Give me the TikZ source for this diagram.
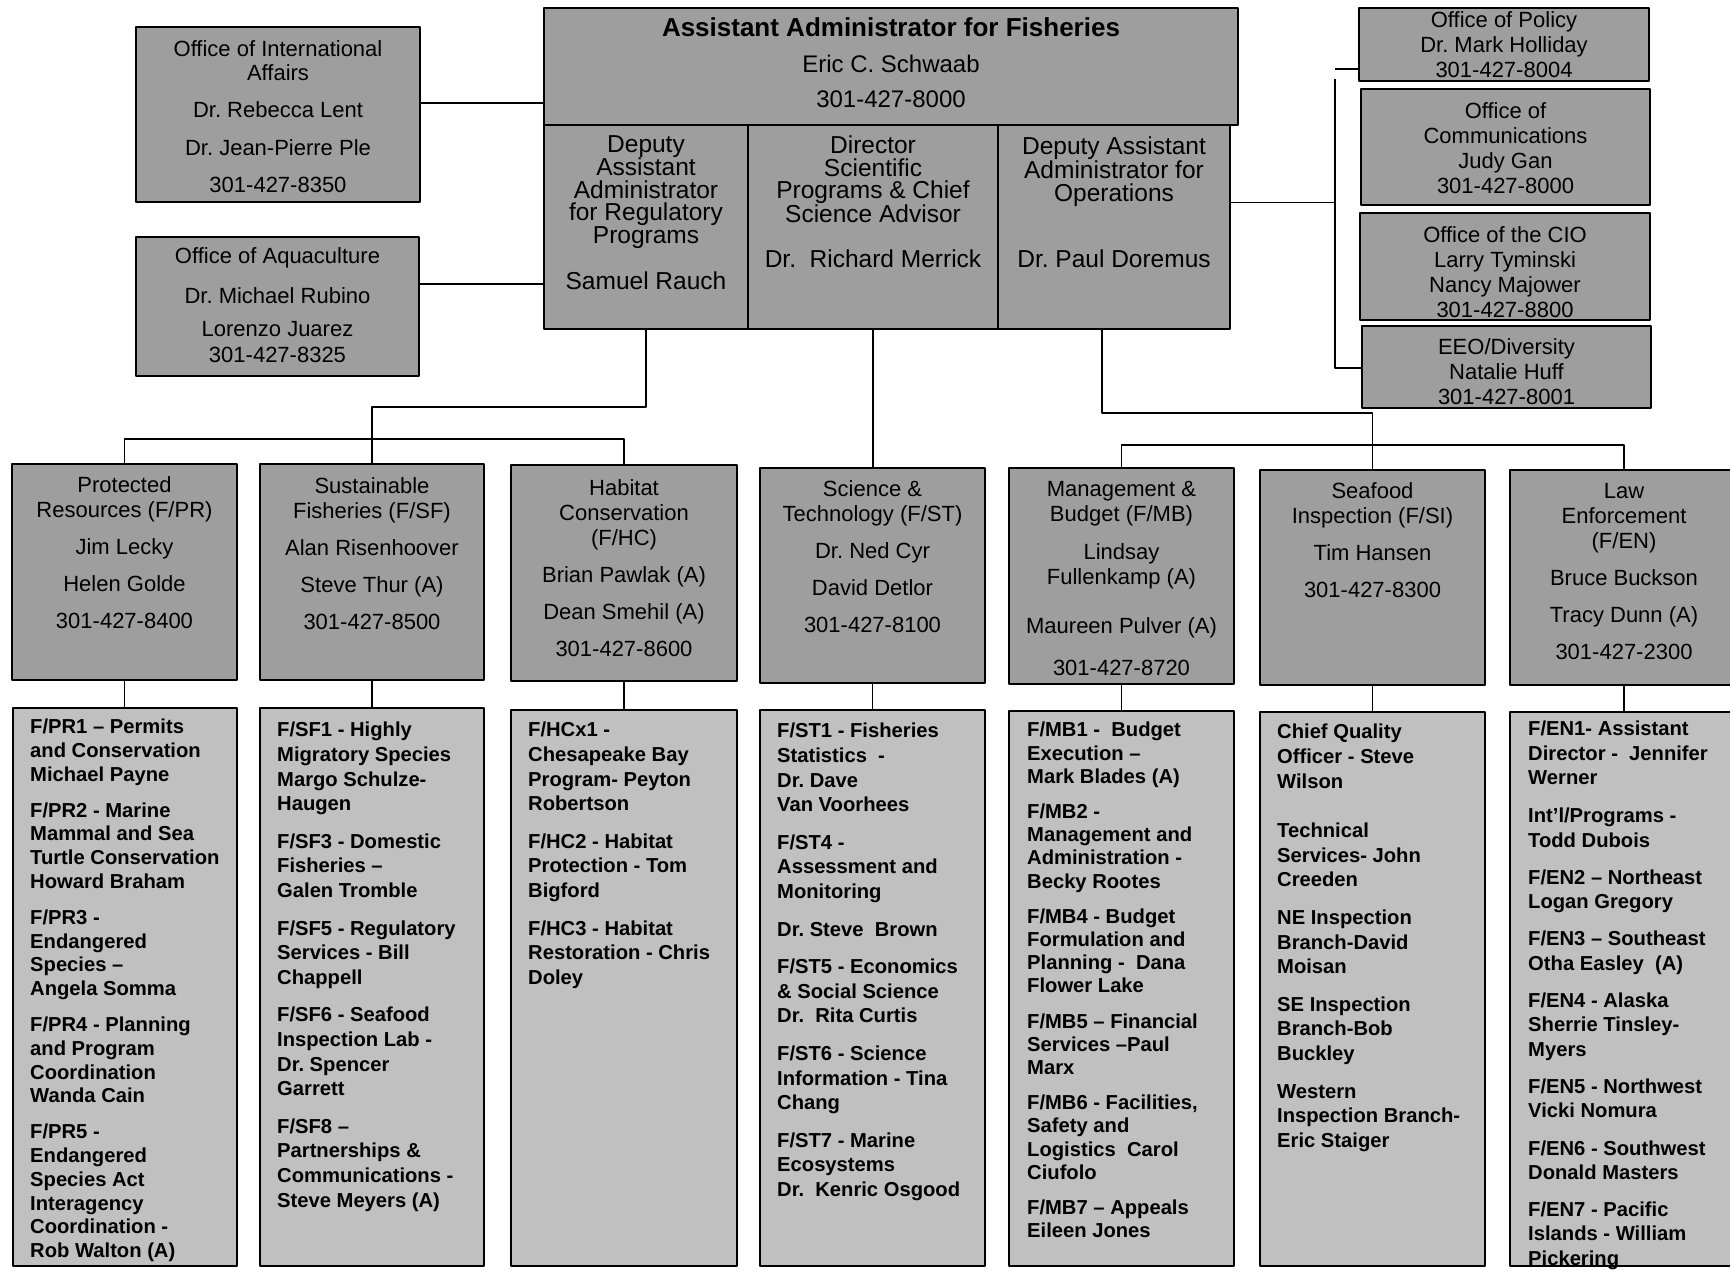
\documentclass[tikz,border=0pt]{standalone}
\usepackage{fontspec}
\setmainfont{Liberation Sans}
\frenchspacing
\definecolor{boxgray}{RGB}{158,158,158}
\definecolor{listgray}{RGB}{192,192,192}
\begin{document}
\begin{tikzpicture}[x=1pt,y=-1pt,line join=bevel,
  box/.style={draw=black,line width=2pt,fill=boxgray,inner sep=0pt,anchor=north west},
  listbox/.style={box,fill=listgray},
  conn/.style={black,line width=1.5pt},
  boxtext/.style={anchor=north,align=center,inner sep=0pt,font=\fontsize{22}{25}\selectfont},
  deptext/.style={boxtext,font=\fontsize{24.5}{22.5}\selectfont},
  listtext/.style={anchor=north west,align=left,inner sep=0pt,font=\bfseries\fontsize{20.2}{24.6}\selectfont},
]
\useasboundingbox (0,0) rectangle (1730,1270);
\fill [white] (0,0) rectangle (1730,1270);
\clip (0,0) rectangle (1730,1270);
%% head office
 \node (aa) at (543,7) [box,minimum width=694pt,minimum height=117pt] {};
 \node (aa_t) at ([yshift=-10pt]aa.north) [boxtext,font=\fontsize{24}{27}\selectfont] {{\bfseries\fontsize{26}{27}\selectfont Assistant Administrator for Fisheries}\\[9pt]Eric C. Schwaab\\[8pt]301-427-8000};
 \node (dep_reg) at (543,124) [box,minimum width=204pt,minimum height=204pt] {};
 \node (dep_sci) at (747,124) [box,minimum width=250pt,minimum height=204pt] {};
 \node (dep_ops) at (997,124) [box,minimum width=232pt,minimum height=204pt] {};
 \node (dep_reg_t) at ([yshift=-11pt]dep_reg.north) [deptext] {Deputy\\Assistant\\Administrator\\for Regulatory\\Programs\\[22.5pt]Samuel Rauch};
 \node (dep_sci_t) at ([yshift=-12pt]dep_sci.north) [deptext] {Director\\Scientific\\Programs \& Chief\\Science Advisor\\[22.5pt]Dr.\ \ Richard Merrick};
 \node (dep_ops_t) at ([yshift=-13pt]dep_ops.north) [deptext] {Deputy Assistant\\Administrator for\\Operations\\[42.5pt]Dr. Paul Doremus};
%% staff offices, left
 \node (intl) at (135,26) [box,minimum width=284pt,minimum height=175pt] {};
 \node (intl_t) at ([yshift=-14.5pt]intl.north) [boxtext] {Office of International\\[-1.5pt]Affairs\\[12pt]Dr. Rebecca Lent\\[13pt]Dr. Jean-Pierre Ple\\[12pt]301-427-8350};
 \node (aqua) at (135,236) [box,minimum width=283pt,minimum height=139pt] {};
 \node (aqua_t) at ([yshift=-11pt]aqua.north) [boxtext] {Office of Aquaculture\\[15pt]Dr. Michael Rubino\\[8pt]Lorenzo Juarez\\[1pt]301-427-8325};
%% staff offices, right
 \node (policy) at (1358,7) [box,minimum width=290pt,minimum height=73pt] {};
 \node (policy_t) at ([yshift=-4pt]policy.north) [boxtext] {Office of Policy\\Dr. Mark Holliday\\301-427-8004};
 \node (comm) at (1360,88) [box,minimum width=289pt,minimum height=116pt] {};
 \node (comm_t) at ([yshift=-14pt]comm.north) [boxtext] {Office of\\Communications\\Judy Gan\\301-427-8000};
 \node (cio) at (1359,212) [box,minimum width=290pt,minimum height=107pt] {};
 \node (cio_t) at ([yshift=-14pt]cio.north) [boxtext] {Office of the CIO\\Larry Tyminski\\Nancy Majower\\301-427-8800};
 \node (eeo) at (1361,325) [box,minimum width=289pt,minimum height=82pt] {};
 \node (eeo_t) at ([yshift=-13pt]eeo.north) [boxtext] {EEO/Diversity\\Natalie Huff\\301-427-8001};
%% offices
 \node (pr) at (11,463) [box,minimum width=225pt,minimum height=216pt] {};
 \node (sf) at (259,463) [box,minimum width=224pt,minimum height=216pt] {};
 \node (hc) at (510,464) [box,minimum width=226pt,minimum height=216pt] {};
 \node (st) at (759,467) [box,minimum width=225pt,minimum height=215pt] {};
 \node (mb) at (1008,467) [box,minimum width=225pt,minimum height=216pt] {};
 \node (si) at (1259,469) [box,minimum width=225pt,minimum height=215pt] {};
 \node (en) at (1509,469) [box,minimum width=228pt,minimum height=215pt] {};
 \node (pr_t) at ([yshift=-13pt]pr.north) [boxtext] {Protected\\Resources (F/PR)\\[12pt]Jim Lecky\\[12pt]Helen Golde\\[12pt]301-427-8400};
 \node (sf_t) at ([yshift=-14pt]sf.north) [boxtext] {Sustainable\\Fisheries (F/SF)\\[12pt]Alan Risenhoover\\[12pt]Steve Thur (A)\\[12pt]301-427-8500};
 \node (hc_t) at ([yshift=-15pt]hc.north) [boxtext] {Habitat\\Conservation\\(F/HC)\\[12pt]Brian Pawlak (A)\\[12pt]Dean Smehil (A)\\[12pt]301-427-8600};
 \node (st_t) at ([yshift=-13pt]st.north) [boxtext] {Science \&\\Technology (F/ST)\\[12pt]Dr. Ned Cyr\\[12pt]David Detlor\\[12pt]301-427-8100};
 \node (mb_t) at ([yshift=-14pt]mb.north) [boxtext] {Management \&\\Budget (F/MB)\\[13pt]Lindsay\\Fullenkamp (A)\\[24pt]Maureen Pulver (A)\\[17pt]301-427-8720};
 \node (si_t) at ([yshift=-13pt]si.north) [boxtext] {Seafood\\Inspection (F/SI)\\[12pt]Tim Hansen\\[12pt]301-427-8300};
 \node (en_t) at ([yshift=-14pt]en.north) [boxtext] {Law\\Enforcement\\(F/EN)\\[12pt]Bruce Buckson\\[12pt]Tracy Dunn (A)\\[12pt]301-427-2300};
%% divisions
 \node (pr_list) at (12,707) [listbox,minimum width=224pt,minimum height=558pt] {};
 \node (sf_list) at (259,707) [listbox,minimum width=224pt,minimum height=558pt] {};
 \node (hc_list) at (510,709) [listbox,minimum width=226pt,minimum height=556pt] {};
 \node (st_list) at (759,709) [listbox,minimum width=225pt,minimum height=556pt] {};
 \node (mb_list) at (1008,710) [listbox,minimum width=225pt,minimum height=555pt] {};
 \node (si_list) at (1259,711) [listbox,minimum width=225pt,minimum height=554pt] {};
 \node (en_list) at (1509,711) [listbox,minimum width=228pt,minimum height=554pt] {};
 \node (pr_list_t) at ([xshift=18pt,yshift=-12pt]pr_list.north west) [listtext,font=\bfseries\fontsize{20.2}{23.9}\selectfont] {F/PR1 – Permits\\and Conservation\\Michael Payne\\[11.5pt]F/PR2 - Marine\\Mammal and Sea\\Turtle Conservation\\Howard Braham\\[11.5pt]F/PR3 -\\Endangered\\Species –\\Angela Somma\\[11.5pt]F/PR4 - Planning\\and Program\\Coordination\\Wanda Cain\\[11.5pt]F/PR5 -\\Endangered\\Species Act\\Interagency\\Coordination -\\Rob Walton (A)};
 \node (sf_list_t) at ([xshift=18pt,yshift=-15pt]sf_list.north west) [listtext] {F/SF1 - Highly\\Migratory Species\\Margo Schulze-\\Haugen\\[13pt]F/SF3 - Domestic\\Fisheries –\\Galen Tromble\\[13pt]F/SF5 - Regulatory\\Services - Bill\\Chappell\\[13pt]F/SF6 - Seafood\\Inspection Lab -\\Dr. Spencer\\Garrett\\[13pt]F/SF8 –\\Partnerships \&\\Communications -\\Steve Meyers (A)};
 \node (hc_list_t) at ([xshift=18pt,yshift=-13pt]hc_list.north west) [listtext] {F/HCx1 -\\Chesapeake Bay\\Program- Peyton\\Robertson\\[13pt]F/HC2 - Habitat\\Protection - Tom\\Bigford\\[13pt]F/HC3 - Habitat\\Restoration - Chris\\Doley};
 \node (st_list_t) at ([xshift=18pt,yshift=-14pt]st_list.north west) [listtext] {F/ST1 - Fisheries\\Statistics\ \ -\\Dr. Dave\\Van Voorhees\\[13pt]F/ST4 -\\Assessment and\\Monitoring\\[13pt]Dr. Steve\ \ Brown\\[13pt]F/ST5 - Economics\\\& Social Science\\Dr.\ \ Rita Curtis\\[13pt]F/ST6 - Science\\Information - Tina\\Chang\\[13pt]F/ST7 - Marine\\Ecosystems\\Dr.\ \ Kenric Osgood};
 \node (mb_list_t) at ([xshift=19pt,yshift=-12pt]mb_list.north west) [listtext,font=\bfseries\fontsize{20.2}{23.2}\selectfont] {F/MB1 -\ \ Budget\\Execution –\\Mark Blades (A)\\[12pt]F/MB2 -\\Management and\\Administration -\\Becky Rootes\\[12pt]F/MB4 - Budget\\Formulation and\\Planning -\ \ Dana\\Flower Lake\\[12pt]F/MB5 – Financial\\Services –Paul\\Marx\\[12pt]F/MB6 - Facilities,\\Safety and\\Logistics\ \ Carol\\Ciufolo\\[12pt]F/MB7 – Appeals\\Eileen Jones};
 \node (si_list_t) at ([xshift=18pt,yshift=-13pt]si_list.north west) [listtext] {Chief Quality\\Officer - Steve\\Wilson\\[25pt]Technical\\Services- John\\Creeden\\[13pt]NE Inspection\\Branch-David\\Moisan\\[13pt]SE Inspection\\Branch-Bob\\Buckley\\[13pt]Western\\Inspection Branch-\\Eric Staiger};
 \node (en_list_t) at ([xshift=19pt,yshift=-10pt]en_list.north west) [listtext,font=\bfseries\fontsize{20.2}{24.3}\selectfont] {F/EN1- Assistant\\Director -\ \ Jennifer\\Werner\\[14pt]Int'l/Programs -\\Todd Dubois\\[13pt]F/EN2 – Northeast\\Logan Gregory\\[13pt]F/EN3 – Southeast\\Otha Easley\ \ (A)\\[13pt]F/EN4 - Alaska\\Sherrie Tinsley-\\Myers\\[13pt]F/EN5 - Northwest\\Vicki Nomura\\[13pt]F/EN6 - Southwest\\Donald Masters\\[13pt]F/EN7 - Pacific\\Islands - William\\Pickering};
%% connectors
 \coordinate (brk_top) at (1335,79);
 \coordinate (brk_bot) at (1335,368);
 \coordinate (reg_j) at (0,407);
 \coordinate (bar_l) at (0,439);
 \coordinate (ops_j) at (0,413);
 \coordinate (bar_r) at (0,445);
  \draw [conn] ([yshift=11.5pt]intl.east) -- ([yshift=11.5pt]intl.east -| aa.west);
  \draw [conn] ([yshift=22.5pt]aqua.east) -- ([yshift=22.5pt]aqua.east -| dep_reg.west);
  \draw [conn] ([yshift=24.5pt]dep_ops.east) -- ([yshift=24.5pt]dep_ops.east -| brk_top);
  \draw [conn] (brk_top) -- (brk_bot) -- (brk_bot -| eeo.west);
  \draw [conn] ([yshift=10pt]brk_top) -- ([yshift=10pt]brk_top -| policy.west);
  \draw [conn] (dep_reg.south) |- (sf.north |- reg_j) -- (sf.north);
  \draw [conn] (pr.north) |- (hc.north |- bar_l) -- (hc.north);
  \draw [conn] (dep_sci.south) -- (dep_sci.south |- st.north);
  \draw [conn] ([xshift=-12pt]dep_ops.south) |- (si.north |- ops_j) -- (si.north);
  \draw [conn] (mb.north) |- (en.north |- bar_r) -- (en.north);
%
  \draw [conn] (pr.south) -- (pr.south |- pr_list.north);
  \draw [conn] (sf.south) -- (sf.south |- sf_list.north);
  \draw [conn] (hc.south) -- (hc.south |- hc_list.north);
  \draw [conn] (st.south) -- (st.south |- st_list.north);
  \draw [conn] (mb.south) -- (mb.south |- mb_list.north);
  \draw [conn] (si.south) -- (si.south |- si_list.north);
  \draw [conn] (en.south) -- (en.south |- en_list.north);
%
\end{tikzpicture}
\end{document}
